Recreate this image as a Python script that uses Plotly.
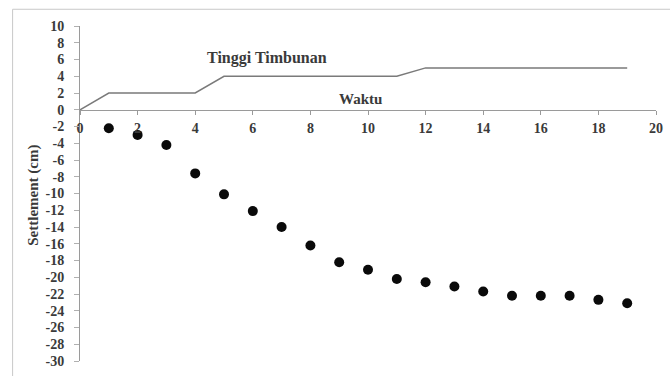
import plotly.graph_objects as go

waktu = [1, 2, 3, 4, 5, 6, 7, 8, 9, 10, 11, 12, 13, 14, 15, 16, 17, 18, 19]
settlement = [-2.2, -3.0, -4.2, -7.6, -10.1, -12.1, -14.0, -16.2, -18.2, -19.1,
              -20.2, -20.6, -21.1, -21.7, -22.2, -22.2, -22.2, -22.7, -23.1]

timbunan_x = [0, 1, 4, 5, 11, 12, 19]
timbunan_y = [0, 2, 2, 4, 4, 5, 5]

x_ticks = [0, 2, 4, 6, 8, 10, 12, 14, 16, 18, 20]
y_ticks = list(range(-30, 11, 2))

serif = "Liberation Serif, DejaVu Serif, serif"
txt_color = "#3a3a3a"

fig = go.Figure()
fig.add_trace(go.Scatter(x=timbunan_x, y=timbunan_y, mode="lines",
                         line=dict(color="#7a7a7a", width=1.5), showlegend=False))
fig.add_trace(go.Scatter(x=waktu, y=settlement, mode="markers",
                         marker=dict(color="#0a0a0a", size=10), showlegend=False))

fig.update_layout(
    width=670, height=376,
    margin=dict(l=80, r=7, t=26, b=14),
    paper_bgcolor="white", plot_bgcolor="white",
    font=dict(family=serif, size=12, color=txt_color),
    xaxis=dict(range=[0, 20], tickvals=x_ticks, ticktext=[str(v) for v in x_ticks],
               anchor="free", position=0.75, showgrid=False, zeroline=False,
               showline=True, linecolor="#9a9a9a", linewidth=1,
               ticks="outside", ticklen=4, tickcolor="#9a9a9a", ticklabelstandoff=1,
               tickfont=dict(family=serif, size=14, color=txt_color, weight="bold")),
    yaxis=dict(range=[-30, 10], tickvals=y_ticks, ticktext=[str(v) for v in y_ticks],
               showgrid=False, zeroline=False, showline=True, linecolor="#9a9a9a", linewidth=1,
               ticks="outside", ticklen=5, tickcolor="#b0b0b0", ticklabelstandoff=7,
               tickfont=dict(family=serif, size=14, color=txt_color, weight="bold")),
    shapes=[dict(type="rect", xref="paper", yref="paper", x0=-0.117, x1=1.05, y0=-0.1, y1=1.05,
                 line=dict(color="#c8c8c8", width=1), fillcolor="rgba(0,0,0,0)", layer="below")],
    annotations=[
        dict(text="<b>Tinggi Timbunan</b>", x=6.5, y=6.2, xref="x", yref="y", showarrow=False,
             font=dict(family=serif, size=16, color=txt_color)),
        dict(text="<b>Waktu</b>", x=9.75, y=1.3, xref="x", yref="y", showarrow=False,
             font=dict(family=serif, size=15, color=txt_color)),
        dict(text="<b>Settlement (cm)</b>", x=-0.0806, y=0.495, xref="paper", yref="paper",
             xanchor="center", yanchor="middle",
             showarrow=False, textangle=-90,
             font=dict(family=serif, size=15, color=txt_color)),
    ],
)

fig.write_html("out.html")
